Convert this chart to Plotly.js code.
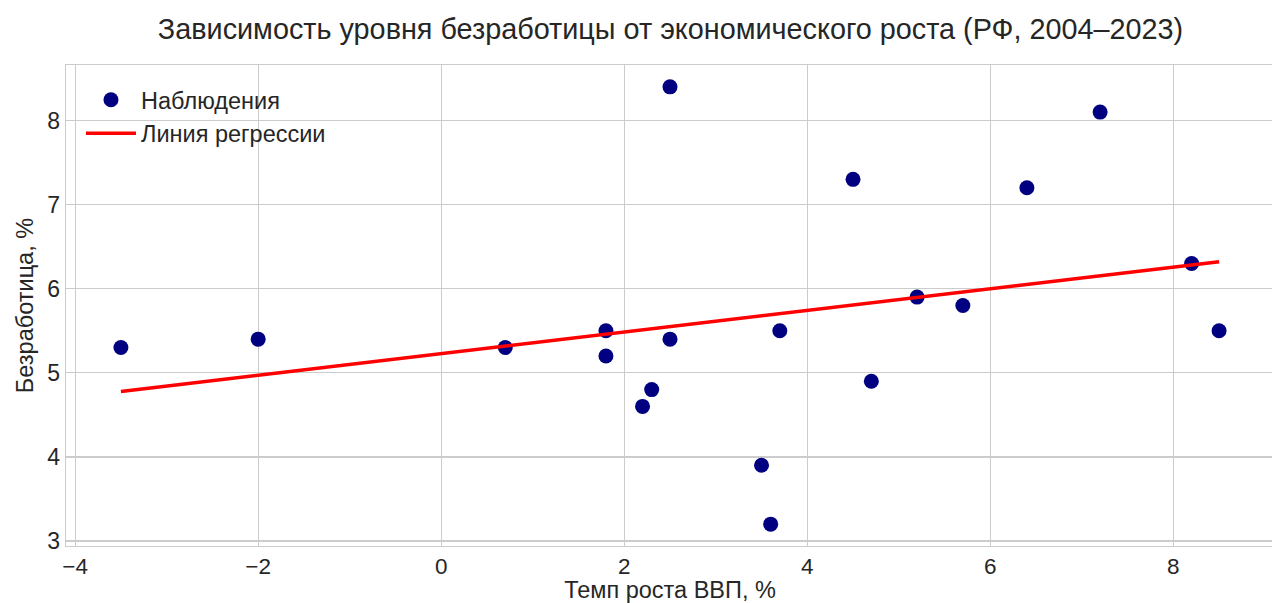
<!DOCTYPE html>
<html><head><meta charset="utf-8">
<script src="https://cdn.plot.ly/plotly-3.0.1.min.js"></script>
<style>html,body{margin:0;padding:0;overflow:hidden;background:#fff}</style>
</head><body><div id="chart"></div>
<script>
const gdpGrowth = [-3.5, -2.0, 0.7, 1.8, 1.8, 2.2, 2.3, 2.5, 2.5, 3.5, 3.6, 3.7, 4.5, 4.7, 5.2, 5.7, 6.4, 7.2, 8.2, 8.5];
const unemployment = [5.3, 5.4, 5.3, 5.5, 5.2, 4.6, 4.8, 5.4, 8.4, 3.9, 3.2, 5.5, 7.3, 4.9, 5.9, 5.8, 7.2, 8.1, 6.3, 5.5];
const xTicks = [-4, -2, 0, 2, 4, 6, 8];
const yTicks = [3, 4, 5, 6, 7, 8];

// least-squares fit
const n = gdpGrowth.length;
const mx = gdpGrowth.reduce((a,b)=>a+b,0)/n;
const my = unemployment.reduce((a,b)=>a+b,0)/n;
let sxy=0, sxx=0;
for (let i=0;i<n;i++){ sxy+=(gdpGrowth[i]-mx)*(unemployment[i]-my); sxx+=(gdpGrowth[i]-mx)**2; }
const slope = sxy/sxx, intercept = my - slope*mx;
const xs = gdpGrowth.slice().sort((a,b)=>a-b);
const fitX = [xs[0], xs[xs.length-1]];
const fitY = fitX.map(x=>intercept+slope*x);

const font = "Liberation Sans, Arial, sans-serif";
const data = [
  {x: gdpGrowth, y: unemployment, mode: 'markers', type: 'scatter', name: 'Наблюдения',
   marker: {color: '#000080', size: 15}},
  {x: fitX, y: fitY, mode: 'lines', type: 'scatter', name: 'Линия регрессии',
   line: {color: '#ff0000', width: 3.5}}
];
const layout = {
  width: 1276, height: 603,
  margin: {l: 66, r: 2, t: 65, b: 57},
  paper_bgcolor: '#fff', plot_bgcolor: '#fff',
  font: {family: font, color: '#262626', size: 23},
  title: {text: 'Зависимость уровня безработицы от экономического роста (РФ, 2004–2023)',
          font: {size: 28.8, color: '#262626'}, x: 0.5255, xanchor: 'center', y: 0.952, yanchor: 'middle'},
  xaxis: {range: [-4.1, 9.1], tickvals: xTicks, showgrid: true, gridcolor: '#cccccc', gridwidth: 1.3,
          zeroline: false, showline: true, linecolor: '#cccccc', linewidth: 1.3, mirror: true,
          ticks: '', ticklen: 0, tickfont: {size: 22.5},
          title: {text: 'Темп роста ВВП, %', font: {size: 23.5}, standoff: 7}},
  yaxis: {range: [2.94, 8.66], tickvals: yTicks, showgrid: true, gridcolor: '#cccccc', gridwidth: 1.3,
          zeroline: false, showline: true, linecolor: '#cccccc', linewidth: 1.3, mirror: true,
          ticks: '', tickfont: {size: 23},
          title: {text: 'Безработица, %', font: {size: 23.5}, standoff: 7}},
  legend: {x: 0.0124, y: 0.973, xanchor: 'left', yanchor: 'top', bgcolor: 'rgba(255,255,255,0)',
           font: {size: 23.5}, itemwidth: 50, tracegroupgap: 0},
  showlegend: true
};
Plotly.newPlot('chart', data, layout, {displayModeBar: false, staticPlot: true});
</script></body></html>
